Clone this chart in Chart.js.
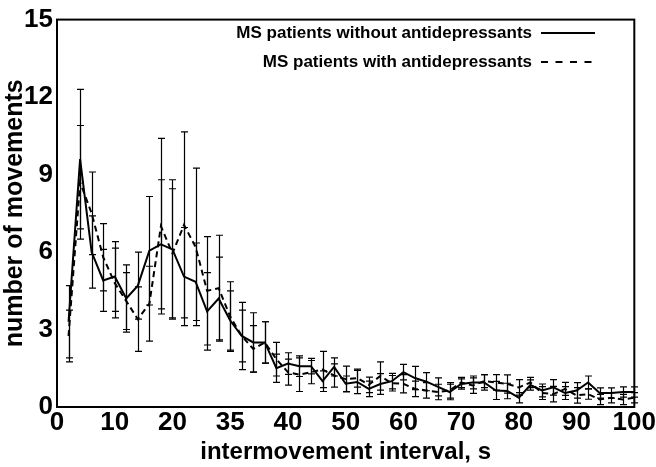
<!DOCTYPE html>
<html>
<head>
<meta charset="utf-8">
<script src="https://cdn.jsdelivr.net/npm/chart.js@4.4.1/dist/chart.umd.min.js"></script>
<style>
  html, body { margin: 0; padding: 0; background: #fff; }
  #wrap { width: 656px; height: 467px; position: relative; }
</style>
</head>
<body>
<div id="wrap"><canvas id="c" width="656" height="467"></canvas></div>
<script>
// ---- data ----
const intervals = [2,4,6,8,10,12,14,16,18,20,22,24,26,28,30,32,34,36,38,40,42,44,46,48,50,52,54,56,58,60,62,64,66,68,70,72,74,76,78,80,82,84,86,88,90,92,94,96,98,100];

const withoutMean = [3.3,9.6,6.0,4.9,5.05,4.2,4.7,6.05,6.3,6.1,5.05,4.85,3.7,4.2,3.35,2.75,2.5,2.5,1.5,1.68,1.58,1.58,1.0,1.55,0.9,0.97,0.7,0.89,1.0,1.35,1.12,0.98,0.78,0.58,0.89,0.95,0.95,0.64,0.62,0.36,0.85,0.64,0.76,0.54,0.64,0.95,0.54,0.54,0.58,0.58];
const withoutErr  = [1.4,2.7,1.4,1.2,1.35,1.3,1.3,2.1,2.5,2.7,1.9,1.5,1.5,1.6,1.15,1.0,1.15,0.8,0.55,0.42,0.4,0.3,0.4,0.35,0.3,0.45,0.3,0.4,0.3,0.3,0.45,0.35,0.35,0.3,0.2,0.25,0.3,0.35,0.3,0.2,0.2,0.25,0.3,0.25,0.3,0.25,0.2,0.2,0.2,0.2];

const withMean = [2.75,8.7,7.5,5.8,4.8,4.1,3.4,4.0,7.0,5.95,7.05,6.2,4.5,4.6,3.5,2.75,2.25,2.5,1.85,1.35,1.25,1.35,1.45,1.22,1.08,1.12,0.86,1.2,0.92,0.9,0.7,0.64,0.58,0.64,0.95,0.83,1.0,0.95,0.89,0.76,0.95,0.54,0.5,0.7,0.45,0.5,0.29,0.36,0.29,0.36];
const withErr  = [1.0,2.2,1.6,1.3,1.35,1.1,1.25,1.45,3.4,2.5,3.6,3.05,2.1,2.05,1.35,1.3,0.9,0.8,0.65,0.5,0.65,0.45,0.7,0.45,0.5,0.35,0.3,0.55,0.3,0.35,0.3,0.3,0.3,0.3,0.2,0.3,0.25,0.3,0.35,0.3,0.2,0.25,0.3,0.25,0.3,0.2,0.2,0.2,0.2,0.2];

const seriesLabels = ['MS patients without antidepressants', 'MS patients with antidepressants'];
const xTickLabels = ['0','10','20','35','40','50','60','70','80','90','100'];
const yTickValues = [0,3,6,9,12,15];

const FONT = '"Liberation Sans", Arial, Helvetica, sans-serif';

const errBars = [withoutErr, withErr];
const legendDash = [[], [7, 7.5]];

const errorBarPlugin = {
  id: 'errorBars',
  afterDatasetsDraw(chart) {
    const ctx = chart.ctx;
    const xs = chart.scales.x, ys = chart.scales.y;
    ctx.save();
    ctx.strokeStyle = '#000';
    ctx.lineWidth = 1.2;
    chart.data.datasets.forEach((ds, di) => {
      const errs = errBars[di];
      ds.data.forEach((p, i) => {
        const px = Math.round(xs.getPixelForValue(p.x)) + 0.5;
        const yt = ys.getPixelForValue(p.y + errs[i]);
        const yb = ys.getPixelForValue(Math.max(p.y - errs[i], 0));
        ctx.beginPath();
        ctx.moveTo(px, yt); ctx.lineTo(px, yb);
        ctx.moveTo(px - 3.5, yt); ctx.lineTo(px + 3.5, yt);
        ctx.moveTo(px - 3.5, yb); ctx.lineTo(px + 3.5, yb);
        ctx.stroke();
      });
    });
    ctx.restore();
  },
  afterDraw(chart) {
    const ctx = chart.ctx;
    const a = chart.chartArea;
    ctx.save();
    ctx.strokeStyle = '#000';
    ctx.lineWidth = 2;
    ctx.strokeRect(a.left, a.top, a.right - a.left, a.bottom - a.top);
    // legend
    ctx.font = 'bold 17px ' + FONT;
    ctx.fillStyle = '#000';
    ctx.textAlign = 'right';
    ctx.textBaseline = 'middle';
    const rows = [33, 62];
    const textRight = 532, lx0 = 541, lx1 = 595;
    chart.data.datasets.forEach((ds, i) => {
      ctx.fillText(ds.label, textRight, rows[i]);
      ctx.beginPath();
      ctx.lineWidth = 2;
      ctx.setLineDash(legendDash[i]);
      ctx.moveTo(lx0, rows[i]); ctx.lineTo(lx1, rows[i]);
      ctx.stroke();
    });
    ctx.restore();
  }
};

new Chart(document.getElementById('c'), {
  type: 'line',
  data: {
    datasets: [
      {
        label: seriesLabels[0],
        data: intervals.map((x, i) => ({ x: x, y: withoutMean[i] })),
        borderColor: '#000', borderWidth: 2, pointRadius: 0, tension: 0, fill: false
      },
      {
        label: seriesLabels[1],
        data: intervals.map((x, i) => ({ x: x, y: withMean[i] })),
        borderColor: '#000', borderWidth: 2, borderDash: [6, 4], pointRadius: 0, tension: 0, fill: false
      }
    ]
  },
  options: {
    responsive: false,
    animation: false,
    devicePixelRatio: 1,
    layout: { padding: { top: 8, right: 19, left: 0, bottom: 0 } },
    plugins: { legend: { display: false }, tooltip: { enabled: false } },
    scales: {
      x: {
        type: 'linear', min: 0, max: 100,
        afterBuildTicks: (s) => { s.ticks = xTickLabels.map((t, i) => ({ value: i * 10 })); },
        ticks: {
          callback: (v, i) => xTickLabels[i],
          color: '#000', font: { family: FONT, size: 26, weight: 'bold' }, padding: 0, maxRotation: 0, autoSkip: false
        },
        grid: { display: false, drawTicks: false },
        border: { color: '#000', width: 2 },
        title: { display: true, text: 'intermovement interval, s', color: '#000',
                 font: { family: FONT, size: 24, weight: 'bold' }, padding: 0 },
        afterFit: (s) => { s.height = 60; }
      },
      y: {
        type: 'linear', min: 0, max: 15,
        afterBuildTicks: (s) => { s.ticks = yTickValues.map(v => ({ value: v })); },
        ticks: {
          color: '#000', font: { family: FONT, size: 26, weight: 'bold' }, padding: 4
        },
        grid: { display: false, drawTicks: false },
        border: { color: '#000', width: 2 },
        title: { display: true, text: 'number of movements', color: '#000',
                 font: { family: FONT, size: 25, weight: 'bold' }, padding: 0 },
        afterFit: (s) => { s.width = 57; }
      }
    }
  },
  plugins: [errorBarPlugin]
});
</script>
</body>
</html>
